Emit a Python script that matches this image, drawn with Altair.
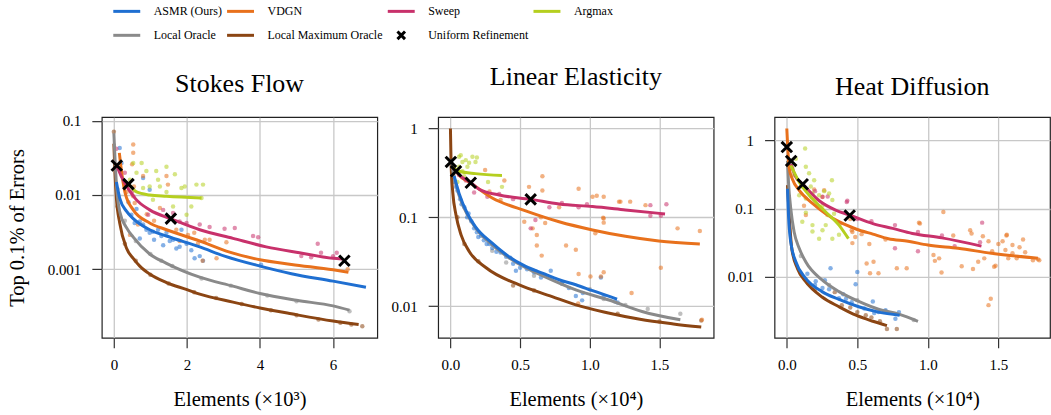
import altair as alt
import pandas as pd

FONT = "Liberation Serif"
METHODS = ["ASMR (Ours)", "VDGN", "Sweep", "Argmax", "Local Oracle",
           "Local Maximum Oracle", "Uniform Refinement"]
COLORS = ["#1f6fd1", "#e8711c", "#c8316b", "#b5cf1f", "#8a8a8a", "#8b4513", "#000000"]
LEGEND_SHAPES = ["stroke"] * 6 + ["M-0.28,-0.28L0.28,0.28M-0.28,0.28L0.28,-0.28"]
LINE_ORDER = ["Local Maximum Oracle", "Local Oracle", "ASMR (Ours)", "VDGN", "Sweep", "Argmax"]

# ---------------- Stokes Flow (x in 1e3 elements) ----------------
sf_asmr_line = [(0.07, 0.015), (0.16, 0.0091), (0.35, 0.006), (0.53, 0.0048), (0.98, 0.0034),
                (1.44, 0.0028), (2.35, 0.0020), (3.03, 0.0015), (4.0, 0.0011), (4.86, 0.00087),
                (6.0, 0.00069), (6.9, 0.00057)]
sf_vdgn_line = [(0.15, 0.037), (0.22, 0.019), (0.31, 0.0106), (0.53, 0.0063), (0.98, 0.0042),
                (1.44, 0.0034), (2.35, 0.0024), (3.17, 0.0017), (4.0, 0.00134), (4.86, 0.00116),
                (6.0, 0.00098), (6.42, 0.00091)]
sf_sweep_line = [(0.07, 0.0256), (0.2, 0.018), (0.4, 0.012), (0.6, 0.0088), (0.98, 0.0063),
                 (1.6, 0.0047), (2.35, 0.0034), (3.26, 0.0026), (4.17, 0.0020), (5.08, 0.00166),
                 (6.0, 0.0014), (6.25, 0.00137)]
sf_argmax_line = [(0.38, 0.0147), (0.62, 0.011), (0.98, 0.0100), (1.44, 0.0096), (2.4, 0.0091)]
sf_local_line = [(0.0, 0.068), (0.04, 0.025), (0.07, 0.0138), (0.16, 0.006), (0.35, 0.0036),
                 (0.53, 0.0027), (0.98, 0.0016), (1.44, 0.0012), (2.35, 0.00078), (3.26, 0.00059),
                 (4.0, 0.00047), (5.0, 0.00038), (6.0, 0.00032), (6.45, 0.00028)]
sf_lmax_line = [(0.0, 0.049), (0.03, 0.02), (0.07, 0.009), (0.16, 0.0042), (0.35, 0.0019),
                (0.53, 0.0014), (0.71, 0.0011), (0.98, 0.00086), (1.44, 0.00066), (2.0, 0.00053),
                (2.35, 0.00046), (3.26, 0.00036), (4.0, 0.0003), (4.86, 0.00025), (6.0, 0.0002),
                (6.7, 0.00018)]
sf_uniform = [(0.08, 0.025), (0.4, 0.014), (1.56, 0.0048), (6.31, 0.0013)]

sf_asmr_pts = [(0.16, 0.043), (0.21, 0.027), (0.48, 0.0054), (0.57, 0.0042), (0.71, 0.0044),
               (0.80, 0.004), (0.89, 0.0034), (0.98, 0.0031), (1.07, 0.0032), (1.21, 0.0034),
               (1.30, 0.0028), (1.44, 0.0031), (1.53, 0.0024), (1.62, 0.0025), (1.71, 0.0019),
               (1.80, 0.002), (1.85, 0.0034), (1.99, 0.0022), (2.12, 0.0018), (2.21, 0.0014),
               (2.35, 0.0015), (2.44, 0.0013), (0.98, 0.0118), (0.80, 0.017), (0.71, 0.0026),
               (4.03, 0.00115), (0.62, 0.0065), (1.1, 0.0025), (1.35, 0.0021), (0.4, 0.008)]
sf_vdgn_pts = [(0.53, 0.048), (0.53, 0.037), (0.5, 0.026), (0.55, 0.013), (0.53, 0.0096),
               (0.57, 0.0078), (0.80, 0.018), (1.48, 0.0138), (1.26, 0.0067), (1.71, 0.0034),
               (2.03, 0.0029), (2.30, 0.0022), (2.62, 0.0025), (2.81, 0.0014), (0.44, 0.0029),
               (0.66, 0.004), (1.44, 0.018), (1.8, 0.0024), (2.49, 0.0025), (3.08, 0.0023),
               (2.43, 0.0013), (6.4, 0.001), (2.2, 0.0031), (0.35, 0.011), (0.9, 0.0055), (1.1, 0.0045)]
sf_sweep_pts = [(0.07, 0.042), (0.94, 0.0054), (1.99, 0.0042), (2.62, 0.0037), (3.03, 0.0035),
                (3.31, 0.0036), (3.81, 0.0028), (3.95, 0.0027), (5.58, 0.0022), (5.67, 0.00166),
                (5.13, 0.0015), (5.4, 0.00145), (6.0, 0.0015), (6.1, 0.00167), (1.62, 0.0057),
                (1.35, 0.0063), (1.8, 0.0044), (2.35, 0.004), (0.3, 0.02), (0.5, 0.011)]
sf_argmax_pts = [(0.53, 0.027), (0.62, 0.020), (0.76, 0.027), (0.89, 0.021), (1.16, 0.021),
                 (1.21, 0.016), (1.26, 0.013), (1.44, 0.011), (1.67, 0.019), (1.85, 0.0124),
                 (1.94, 0.013), (2.12, 0.007), (2.26, 0.0138), (2.44, 0.0138), (2.40, 0.0091),
                 (0.98, 0.013), (1.07, 0.0086), (1.62, 0.007), (1.44, 0.024), (0.44, 0.016),
                 (0.80, 0.0124), (1.99, 0.0054)]
sf_local_pts = [(0.1, 0.012), (0.3, 0.0045), (0.6, 0.0024), (1.0, 0.0016), (1.6, 0.0011),
                (2.4, 0.00075), (3.2, 0.0006), (4.2, 0.00044), (5.0, 0.00037), (6.45, 0.00027),
                (1.3, 0.0013)]
sf_lmax_pts = [(0.0, 0.071), (0.1, 0.007), (0.3, 0.0022), (0.6, 0.0013), (1.0, 0.00084),
               (1.5, 0.00064), (2.2, 0.00049), (2.8, 0.00041), (3.5, 0.00034), (4.3, 0.00028),
               (5.0, 0.00024), (5.6, 0.00021), (6.2, 0.00019), (6.8, 0.00017), (6.5, 0.00018)]

# ---------------- Linear Elasticity (x in 1e4 elements) ----------------
le_asmr_line = [(0.027, 0.29), (0.062, 0.186), (0.122, 0.11), (0.18, 0.078), (0.30, 0.051),
                (0.42, 0.036), (0.54, 0.028), (0.66, 0.0235), (0.78, 0.0198), (0.90, 0.0174),
                (1.02, 0.0149), (1.196, 0.012)]
le_vdgn_line = [(0.02, 0.38), (0.06, 0.3), (0.134, 0.25), (0.30, 0.165), (0.54, 0.118),
                (0.78, 0.089), (1.02, 0.072), (1.256, 0.061), (1.495, 0.054), (1.79, 0.050)]
le_sweep_line = [(0.02, 0.36), (0.062, 0.30), (0.146, 0.245), (0.206, 0.207), (0.35, 0.178),
                 (0.576, 0.159), (0.78, 0.141), (1.02, 0.132), (1.256, 0.121), (1.54, 0.109)]
le_argmax_line = [(0.015, 0.37), (0.062, 0.33), (0.18, 0.31), (0.37, 0.296)]
le_local_line = [(0.005, 0.45), (0.02, 0.32), (0.06, 0.18), (0.12, 0.108), (0.18, 0.076),
                 (0.30, 0.049), (0.42, 0.035), (0.54, 0.027), (0.66, 0.022), (0.90, 0.0152),
                 (1.137, 0.0117), (1.375, 0.0087), (1.65, 0.0070)]
le_lmax_line = [(0.0, 1.0), (0.005, 0.39), (0.017, 0.19), (0.04, 0.106), (0.077, 0.063),
                (0.136, 0.041), (0.256, 0.027), (0.49, 0.0174), (0.73, 0.0128), (0.90, 0.0103),
                (1.125, 0.0084), (1.36, 0.0071), (1.60, 0.0063), (1.80, 0.0058)]
le_uniform = [(0.003, 0.42), (0.04, 0.33), (0.146, 0.245), (0.576, 0.159)]

le_asmr_pts = [(0.03, 0.25), (0.04, 0.22), (0.05, 0.2), (0.07, 0.16), (0.08, 0.14), (0.1, 0.13),
               (0.12, 0.1), (0.13, 0.11), (0.15, 0.09), (0.17, 0.075), (0.19, 0.068), (0.2, 0.06),
               (0.22, 0.062), (0.24, 0.055), (0.26, 0.05), (0.28, 0.05), (0.3, 0.045), (0.33, 0.041),
               (0.36, 0.04), (0.4, 0.036), (0.43, 0.035), (0.45, 0.03), (0.47, 0.025), (0.5, 0.027),
               (0.55, 0.026), (0.6, 0.024), (0.614, 0.0245), (0.65, 0.021), (0.68, 0.022),
               (0.72, 0.025), (0.8, 0.018), (0.85, 0.016), (0.9, 0.013), (0.945, 0.0116),
               (0.95, 0.014), (1.08, 0.021), (1.1, 0.013), (1.18, 0.0113), (1.2, 0.011)]
le_vdgn_pts = [(0.249, 0.34), (0.387, 0.26), (0.66, 0.29), (0.564, 0.22), (0.66, 0.20), (0.78, 0.13),
               (0.92, 0.21), (1.02, 0.17), (1.10, 0.17), (1.21, 0.15), (1.29, 0.15), (1.40, 0.137),
               (1.63, 0.075), (1.79, 0.070), (1.10, 0.097), (1.10, 0.087), (1.04, 0.066), (0.53, 0.089),
               (0.59, 0.075), (0.65, 0.10), (0.68, 0.086), (0.62, 0.063), (0.90, 0.043), (0.83, 0.048),
               (0.62, 0.048), (0.655, 0.037), (0.92, 0.023), (1.08, 0.0215), (1.10, 0.024),
               (1.005, 0.0215), (1.30, 0.014), (1.51, 0.027), (1.805, 0.007), (0.36, 0.157),
               (0.28, 0.195), (1.05, 0.175), (1.22, 0.15), (1.096, 0.099), (0.917, 0.0107)]
le_sweep_pts = [(0.062, 0.30), (0.11, 0.26), (0.17, 0.19), (0.265, 0.17), (0.35, 0.183),
                (0.61, 0.093), (0.576, 0.075), (0.71, 0.13), (0.92, 0.13), (0.98, 0.14),
                (1.435, 0.104), (1.51, 0.104), (1.55, 0.14), (1.435, 0.137), (0.45, 0.16),
                (0.8, 0.145)]
le_argmax_pts = [(0.062, 0.48), (0.074, 0.50), (0.086, 0.42), (0.11, 0.44), (0.134, 0.41),
                 (0.158, 0.48), (0.18, 0.42), (0.19, 0.47), (0.062, 0.37), (0.086, 0.33),
                 (0.122, 0.37), (0.098, 0.29), (0.27, 0.25), (0.37, 0.22), (0.05, 0.25)]
le_local_pts = [(0.3, 0.042), (0.4, 0.031), (0.6, 0.022), (0.8, 0.018), (1.0, 0.0155),
                (1.256, 0.0103), (1.416, 0.0093), (1.65, 0.0082), (1.1, 0.012)]
le_lmax_pts = [(0.02, 0.3), (0.05, 0.1), (0.1, 0.05), (0.2, 0.032), (0.45, 0.017), (0.6, 0.015),
               (1.2, 0.0082), (1.5, 0.0067), (1.8, 0.0069)]

# ---------------- Heat Diffusion (x in 1e4 elements) ----------------
hd_asmr_line = [(0.005, 0.195), (0.012, 0.08), (0.028, 0.032), (0.064, 0.0165), (0.134, 0.0094),
                (0.25, 0.006), (0.37, 0.0046), (0.51, 0.0036), (0.65, 0.003), (0.80, 0.0027)]
hd_vdgn_line = [(0.0, 1.5), (0.007, 0.76), (0.017, 0.39), (0.04, 0.27), (0.088, 0.185),
                (0.18, 0.12), (0.276, 0.084), (0.37, 0.064), (0.49, 0.05), (0.61, 0.042),
                (0.72, 0.036), (0.86, 0.033), (1.0, 0.029), (1.215, 0.026), (1.45, 0.022),
                (1.78, 0.0185)]
hd_sweep_line = [(0.03, 0.45), (0.06, 0.3), (0.111, 0.23), (0.23, 0.13), (0.35, 0.094),
                 (0.446, 0.080), (0.61, 0.060), (0.75, 0.051), (0.89, 0.043), (1.10, 0.037),
                 (1.38, 0.028)]
hd_argmax_line = [(0.028, 0.43), (0.088, 0.245), (0.18, 0.14), (0.276, 0.089), (0.37, 0.057),
                  (0.437, 0.036)]
hd_local_line = [(0.005, 0.5), (0.012, 0.245), (0.028, 0.1), (0.052, 0.045), (0.088, 0.026),
                 (0.134, 0.0165), (0.25, 0.0089), (0.37, 0.006), (0.51, 0.0043), (0.65, 0.0033),
                 (0.795, 0.0028), (0.93, 0.0022)]
hd_lmax_line = [(0.005, 0.22), (0.017, 0.08), (0.035, 0.026), (0.076, 0.013), (0.134, 0.0084),
                (0.25, 0.005), (0.37, 0.0036), (0.49, 0.0027), (0.61, 0.0022), (0.71, 0.0019)]
hd_uniform = [(0.0, 0.8), (0.031, 0.5), (0.113, 0.227), (0.446, 0.079)]

hd_asmr_pts = [(0.31, 0.0132), (0.50, 0.0117), (0.488, 0.0077), (0.253, 0.0068), (0.3, 0.0065),
               (0.37, 0.0048), (0.42, 0.0047), (0.46, 0.0042), (0.61, 0.0043), (0.65, 0.003),
               (0.62, 0.0029), (0.77, 0.0024), (0.795, 0.003), (0.205, 0.0085), (0.146, 0.011),
               (0.27, 0.0088), (0.55, 0.0034), (0.4, 0.0055), (0.2, 0.0075), (0.7, 0.0032)]
hd_vdgn_pts = [(0.194, 0.19), (0.265, 0.185), (0.253, 0.148), (0.122, 0.11), (0.135, 0.08),
               (0.465, 0.045), (0.465, 0.031), (0.585, 0.030), (0.615, 0.0165), (0.65, 0.0112),
               (0.85, 0.0132), (0.46, 0.048), (0.485, 0.038), (0.53, 0.042), (0.59, 0.0112),
               (0.566, 0.0156), (0.78, 0.0132), (1.11, 0.089), (0.944, 0.060), (1.04, 0.0207),
               (1.08, 0.0185), (1.097, 0.0115), (1.24, 0.0142), (1.32, 0.0129), (1.30, 0.048),
               (1.31, 0.043), (1.39, 0.039), (1.40, 0.0185), (1.47, 0.0139), (1.557, 0.040),
               (1.60, 0.029), (1.78, 0.018), (1.43, 0.0038), (1.446, 0.0047), (0.937, 0.062),
               (1.18, 0.040), (1.05, 0.017), (1.357, 0.0165), (1.43, 0.033), (1.456, 0.0236),
               (1.48, 0.0144), (1.53, 0.033), (1.56, 0.041), (1.55, 0.0245), (1.57, 0.0185),
               (1.675, 0.035), (1.69, 0.0227), (1.745, 0.0174), (1.79, 0.0174), (1.63, 0.0185),
               (1.6, 0.022), (1.65, 0.027), (1.5, 0.03), (0.38, 0.06), (0.7, 0.035), (0.45, 0.07)]
hd_sweep_pts = [(0.253, 0.149), (0.29, 0.15), (0.429, 0.13), (0.425, 0.125), (0.767, 0.057),
                (0.93, 0.045), (0.93, 0.0236), (1.19, 0.028), (1.37, 0.032), (1.385, 0.062),
                (0.767, 0.026), (0.5, 0.07), (0.2, 0.18), (0.6, 0.065), (1.1, 0.04)]
hd_argmax_pts = [(0.13, 0.76), (0.064, 0.54), (0.04, 0.39), (0.135, 0.41), (0.158, 0.33),
                 (0.194, 0.26), (0.11, 0.21), (0.17, 0.21), (0.182, 0.166), (0.088, 0.157),
                 (0.135, 0.14), (0.205, 0.133), (0.229, 0.157), (0.265, 0.18), (0.30, 0.166),
                 (0.253, 0.11), (0.323, 0.133), (0.335, 0.084), (0.288, 0.080), (0.135, 0.087),
                 (0.182, 0.057), (0.11, 0.064), (0.276, 0.057), (0.253, 0.048), (0.323, 0.036),
                 (0.37, 0.041), (0.229, 0.036), (0.182, 0.046), (0.217, 0.11), (0.052, 0.31),
                 (0.32, 0.26)]
hd_local_pts = [(0.1, 0.02), (0.3, 0.0075), (0.5, 0.0045), (0.7, 0.0031), (0.9, 0.0023)]
hd_lmax_pts = [(0.34, 0.0059), (0.39, 0.0038), (0.45, 0.0035), (0.56, 0.0027), (0.66, 0.0022),
               (0.78, 0.0017), (0.2, 0.0065), (0.15, 0.008), (0.5, 0.003), (0.6, 0.0025),
               (0.71, 0.0017)]


def frame(pairs, method):
    return pd.DataFrame({"x": [p[0] for p in pairs], "y": [p[1] for p in pairs], "method": method})


color_scale = alt.Scale(domain=METHODS, range=COLORS)


def panel(title, title_offset, lines, dots, uniform, xdom, ydom, xticks, yticks, xfmt,
          xtitle, ytitle, with_legend):
    x = alt.X("x:Q", scale=alt.Scale(domain=xdom, nice=False, zero=False),
              axis=alt.Axis(values=xticks, format=xfmt, title=xtitle, grid=True))
    if ytitle:
        yaxis = alt.Axis(values=yticks, labelExpr="'' + datum.value", title=ytitle, titlePadding=20)
    else:
        yaxis = alt.Axis(values=yticks, labelExpr="'' + datum.value", title=None)
    y = alt.Y("y:Q", scale=alt.Scale(type="log", domain=ydom, nice=False), axis=yaxis)

    dots_df = pd.concat([frame(v, k) for k, v in dots.items()], ignore_index=True)
    if with_legend:
        leg = alt.Legend(title=None, orient="none", legendX=10, legendY=-121, padding=0,
                         direction="horizontal", columns=4, columnPadding=-2, rowPadding=3,
                         symbolSize=729, symbolStrokeWidth=3, symbolOpacity=1,
                         labelFont=FONT, labelFontSize=12, labelOffset=12, labelColor="black")
        ldf = pd.DataFrame({"method": METHODS, "x": [uniform[0][0]] * 7, "y": [uniform[0][1]] * 7})
        layers = [alt.Chart(ldf).mark_point(filled=False, size=729, strokeWidth=3, opacity=0).encode(
            x=x, y=y,
            color=alt.Color("method:N", scale=color_scale, legend=leg),
            shape=alt.Shape("method:N", scale=alt.Scale(domain=METHODS, range=LEGEND_SHAPES),
                            legend=leg))]
    else:
        layers = []
    col = alt.Color("method:N", scale=color_scale, legend=None)
    layers.append(alt.Chart(dots_df).mark_circle(size=20, opacity=0.55).encode(x=x, y=y, color=col))
    for m in LINE_ORDER:
        if m in lines:
            layers.append(alt.Chart(frame(lines[m], m)).mark_line(
                strokeWidth=3, interpolate="monotone", clip=True).encode(
                x=x, y=y, color=col, order="x:Q"))
    layers.append(alt.Chart(frame(uniform, "Uniform Refinement")).mark_point(
        shape="M-1,-1L1,1M-1,1L1,-1", size=110, strokeWidth=3, color="black",
        filled=False, opacity=1).encode(x=x, y=y))
    return alt.layer(*layers).properties(
        width=276, height=221,
        title=alt.TitleParams(title, font=FONT, fontSize=26, fontWeight="normal", color="black",
                              anchor="middle", offset=title_offset, baseline="alphabetic"))


p1 = panel("Stokes Flow", -4,
           {"ASMR (Ours)": sf_asmr_line, "VDGN": sf_vdgn_line, "Sweep": sf_sweep_line,
            "Argmax": sf_argmax_line, "Local Oracle": sf_local_line,
            "Local Maximum Oracle": sf_lmax_line},
           {"Local Maximum Oracle": sf_lmax_pts, "Local Oracle": sf_local_pts,
            "ASMR (Ours)": sf_asmr_pts, "VDGN": sf_vdgn_pts, "Sweep": sf_sweep_pts,
            "Argmax": sf_argmax_pts},
           sf_uniform, [-0.33, 7.21], [1.19e-4, 0.112], [0, 2, 4, 6], [0.001, 0.01, 0.1], "d",
           "Elements (×10³)", "Top 0.1% of Errors", True)
p2 = panel("Linear Elasticity", 6,
           {"ASMR (Ours)": le_asmr_line, "VDGN": le_vdgn_line, "Sweep": le_sweep_line,
            "Argmax": le_argmax_line, "Local Oracle": le_local_line,
            "Local Maximum Oracle": le_lmax_line},
           {"Local Maximum Oracle": le_lmax_pts, "Local Oracle": le_local_pts,
            "ASMR (Ours)": le_asmr_pts, "VDGN": le_vdgn_pts, "Sweep": le_sweep_pts,
            "Argmax": le_argmax_pts},
           le_uniform, [-0.088, 1.889], [0.0044, 1.34], [0, 0.5, 1.0, 1.5], [0.01, 0.1, 1], ".1f",
           "Elements (×10⁴)", None, False)
p3 = panel("Heat Diffusion", -4,
           {"ASMR (Ours)": hd_asmr_line, "VDGN": hd_vdgn_line, "Sweep": hd_sweep_line,
            "Argmax": hd_argmax_line, "Local Oracle": hd_local_line,
            "Local Maximum Oracle": hd_lmax_line},
           {"Local Maximum Oracle": hd_lmax_pts, "Local Oracle": hd_local_pts,
            "ASMR (Ours)": hd_asmr_pts, "VDGN": hd_vdgn_pts, "Sweep": hd_sweep_pts,
            "Argmax": hd_argmax_pts},
           hd_uniform, [-0.087, 1.866], [0.00126, 2.2], [0, 0.5, 1.0, 1.5], [0.01, 0.1, 1], ".1f",
           "Elements (×10⁴)", None, False)

chart = alt.hconcat(p1, p2, p3, spacing=61, bounds="flush").properties(
    padding={"left": 6, "top": -4, "right": 0, "bottom": 0}
).configure_view(
    stroke="#222222", strokeWidth=1.2
).configure_axis(
    labelFont=FONT, labelFontSize=15, labelColor="black", titleFont=FONT, titleFontSize=20.5,
    titleFontWeight="normal", titleColor="black", tickSize=10, tickColor="#333333",
    tickWidth=1.2, domain=False, gridColor="#c8c8c8", gridWidth=1.3, labelPadding=11
).configure_axisX(
    labelPadding=10, titlePadding=17
)

chart.save("out.html", embed_options={"renderer": "svg", "actions": False})
